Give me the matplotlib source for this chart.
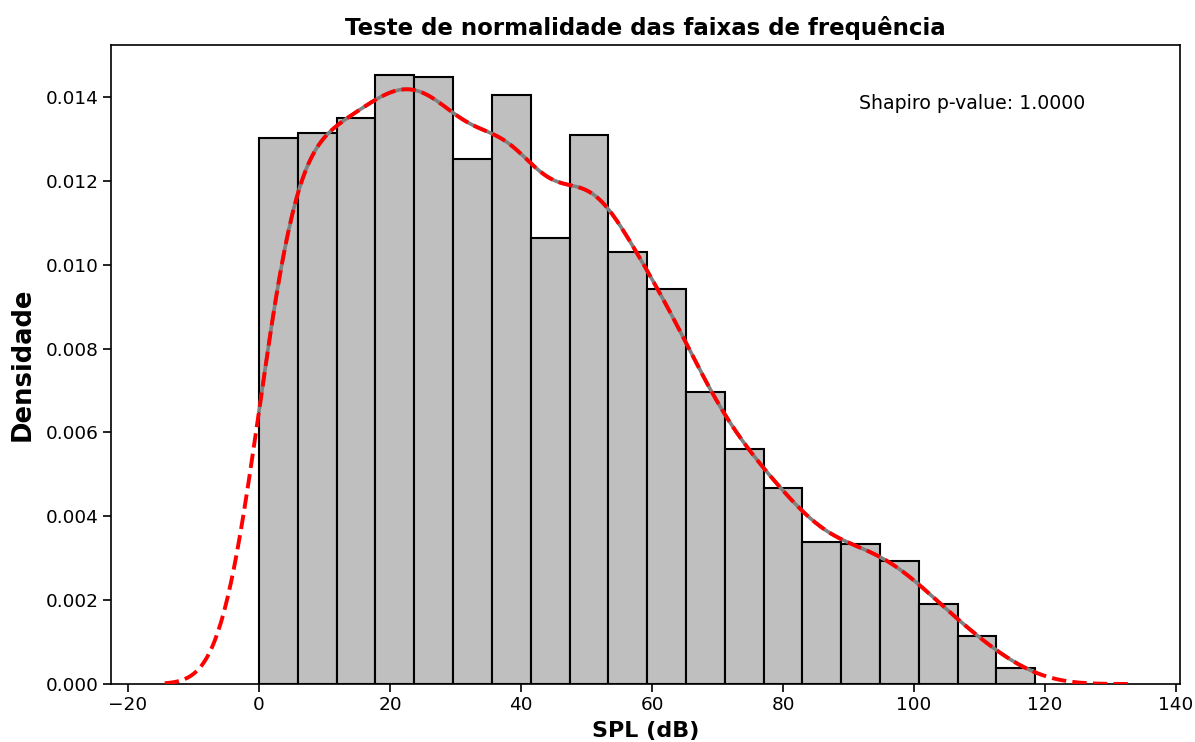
import math
import numpy as np
import matplotlib
matplotlib.use("Agg")
import matplotlib.pyplot as plt

# Histogram (density)
bin_start = 0.0
bin_width = 5.925
densities = [0.01302, 0.01314, 0.01350, 0.01452, 0.01448, 0.01252, 0.01405,
             0.01064, 0.01309, 0.01030, 0.00942, 0.00696, 0.00560, 0.00467,
             0.00339, 0.00334, 0.00293, 0.00191, 0.00114, 0.00038]
bandwidth = 4.8
p_value_text = "Shapiro p-value: 1.0000"

edges = bin_start + bin_width * np.arange(len(densities) + 1)
dens = np.array(densities)
weights = dens * bin_width
weights = weights / weights.sum()

erf = np.frompyfunc(math.erf, 1, 1)


def kde(x):
    x = np.asarray(x, dtype=float)
    out = np.zeros_like(x)
    for lo, hi, w in zip(edges[:-1], edges[1:], weights):
        a = ((x - lo) / (bandwidth * math.sqrt(2))).astype(float)
        b = ((x - hi) / (bandwidth * math.sqrt(2))).astype(float)
        cdf = 0.5 * (erf(a).astype(float) - erf(b).astype(float))
        out += w * cdf / (hi - lo)
    return out


fig = plt.figure(figsize=(11.95, 7.42), dpi=100)
ax = fig.add_axes([111 / 1195, 1 - 684 / 742, (1180 - 111) / 1195, (684 - 45) / 742])

ax.bar(edges[:-1], dens, width=bin_width, align="edge", color="#bfbfbf",
       edgecolor="black", linewidth=1.5, zorder=2)

xin = np.linspace(edges[0], edges[-1], 400)
ax.plot(xin, kde(xin), color="grey", lw=2.6, zorder=3)

cut = 3 * bandwidth
xall = np.linspace(edges[0] - cut, edges[-1] + cut, 600)
ax.plot(xall, kde(xall), color="red", lw=2.8, ls=(0, (3.7, 1.6)), zorder=4)

ax.set_xlim(-22.6, 140.6)
ax.set_ylim(0, 0.01524)
ax.set_xticks(np.arange(-20, 141, 20))
ax.set_yticks(np.arange(0, 0.0141, 0.002))
ax.yaxis.set_major_formatter(matplotlib.ticker.FormatStrFormatter("%.3f"))
ax.tick_params(labelsize=13.3, width=1.2, length=5.5)
for s in ax.spines.values():
    s.set_linewidth(1.2)

ax.text(0.70, 0.90, p_value_text, transform=ax.transAxes, fontsize=13.6)
ax.set_title("Teste de normalidade das faixas de frequência", fontsize=16.5,
             fontweight="bold", pad=7)
ax.set_xlabel("SPL (dB)", fontsize=16, fontweight="bold", labelpad=5)
ax.set_ylabel("Densidade", fontsize=18.6, fontweight="bold", labelpad=7)

fig.savefig("out.png", dpi=100)
